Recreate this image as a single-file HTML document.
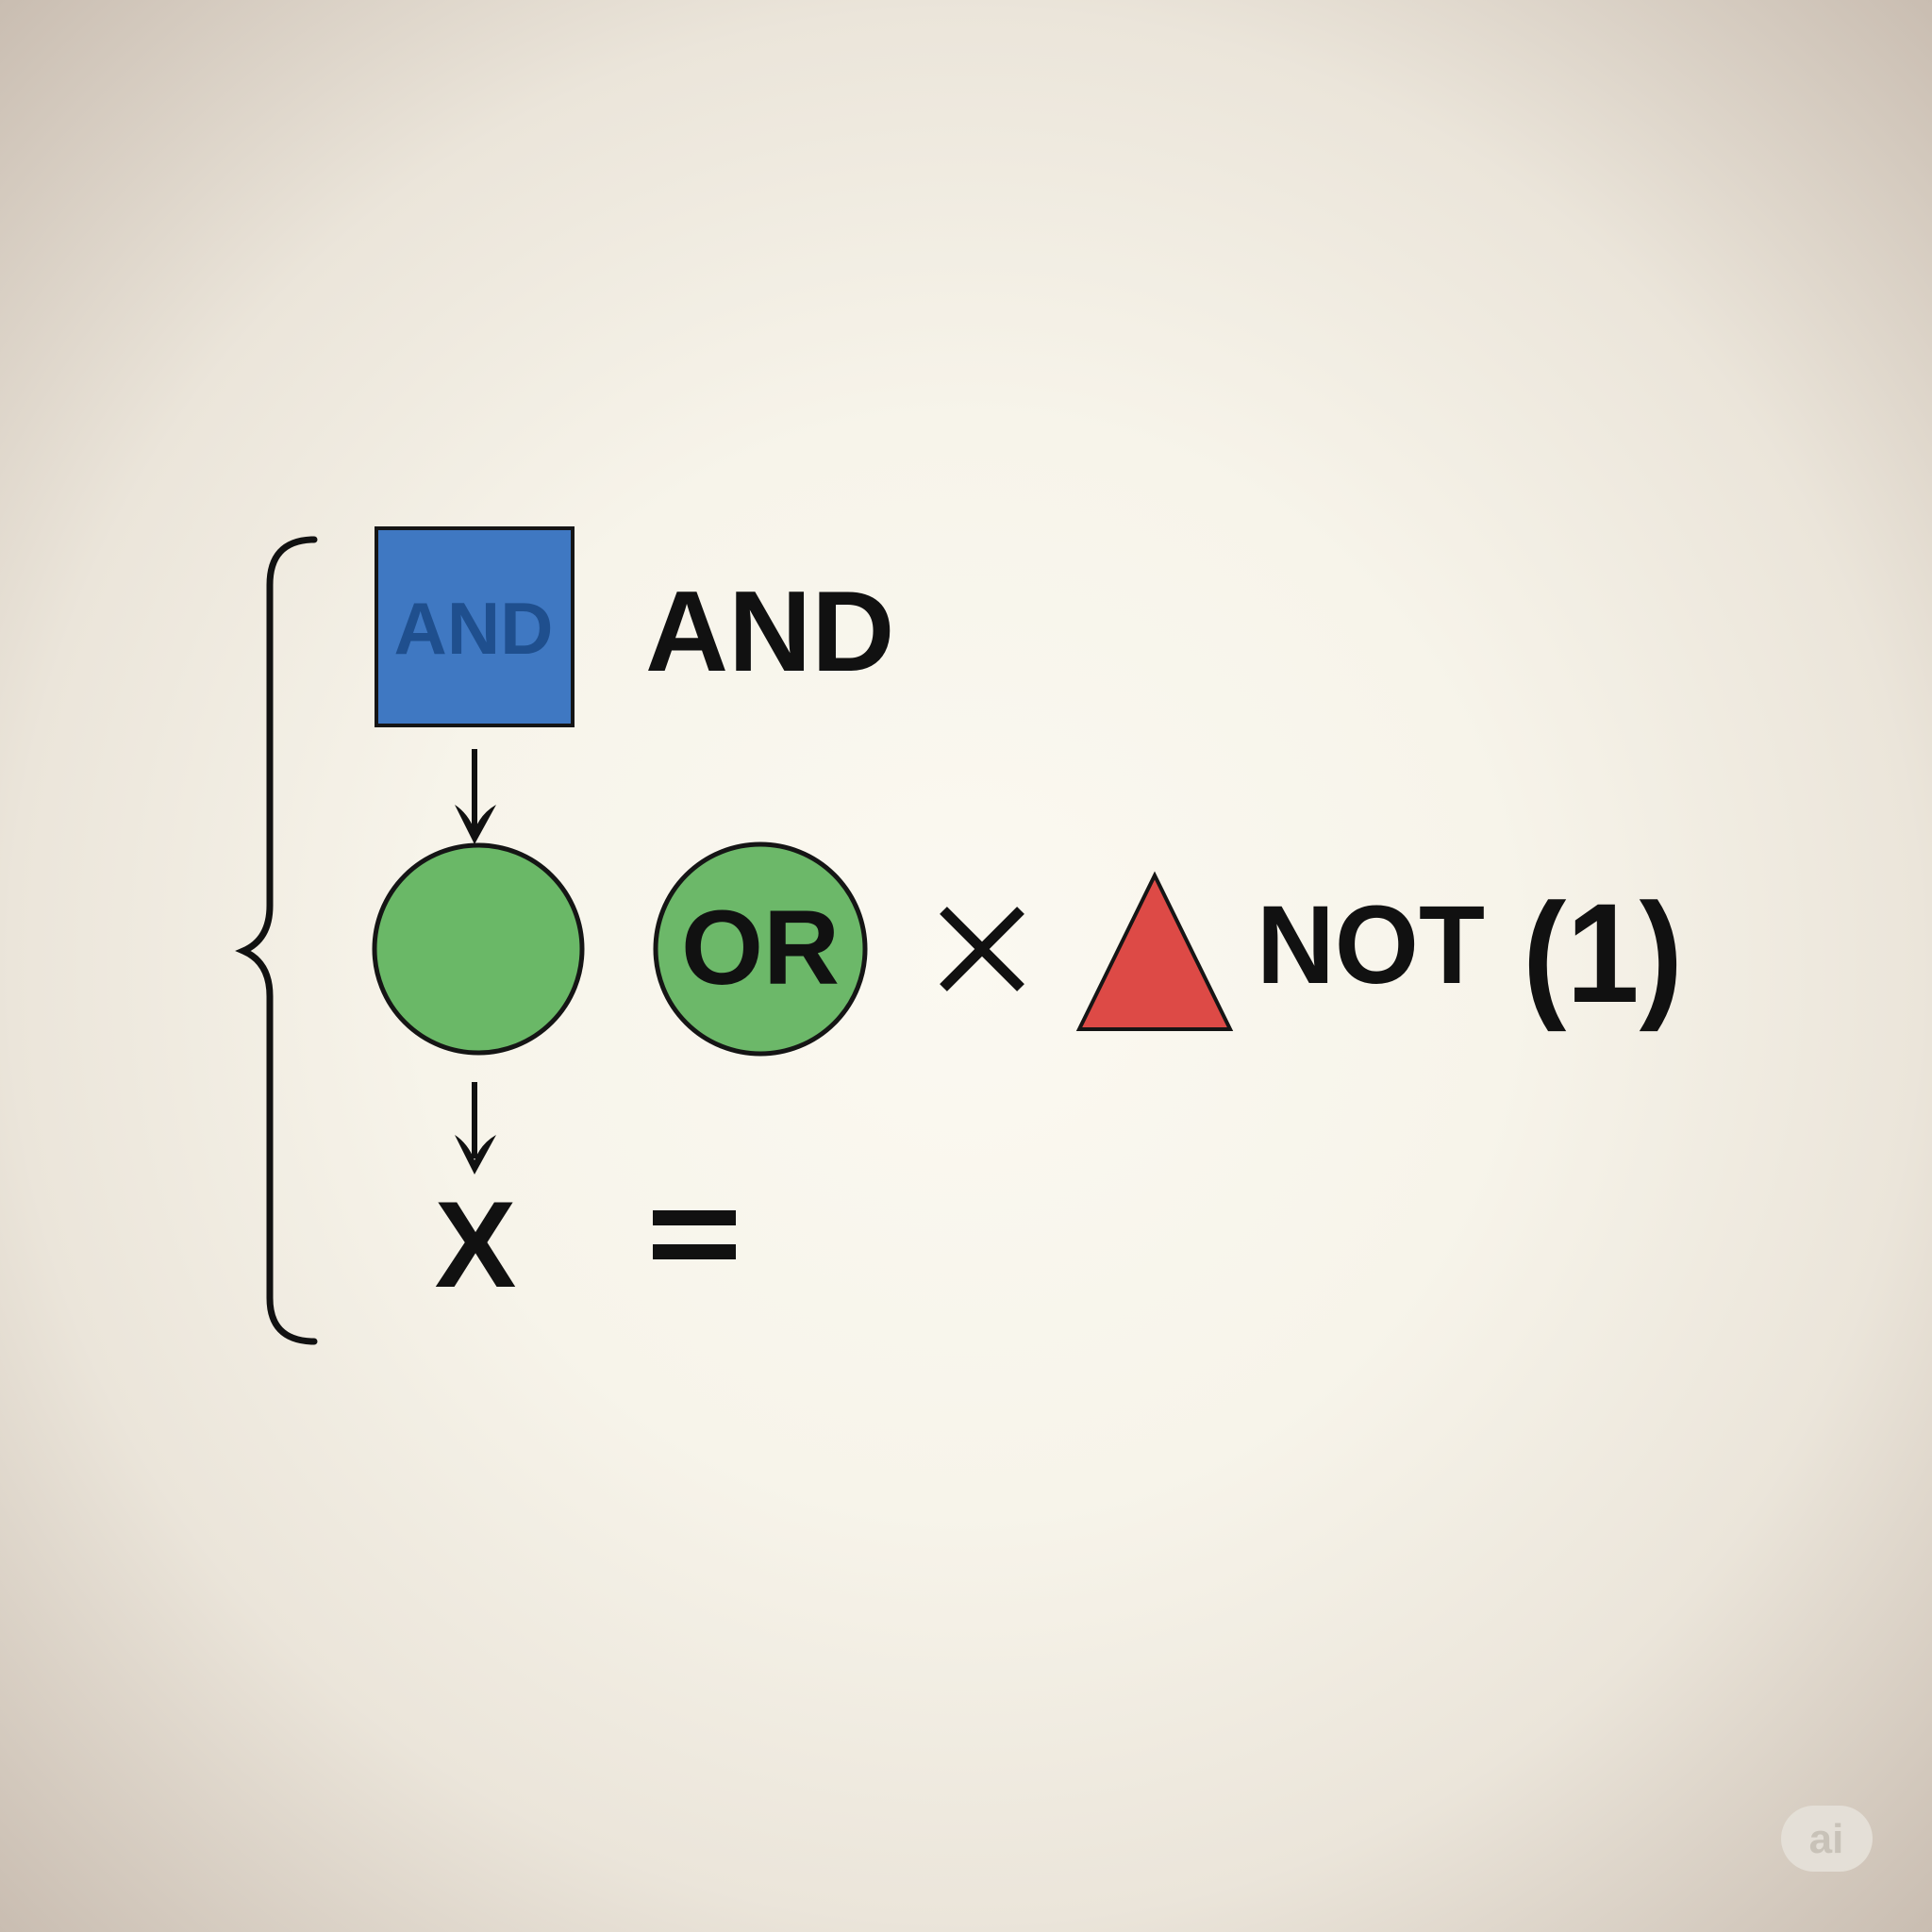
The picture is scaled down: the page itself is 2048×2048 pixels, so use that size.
<!DOCTYPE html>
<html><head><meta charset="utf-8"><style>
html,body{margin:0;padding:0;}
body{width:2048px;height:2048px;overflow:hidden;
background:radial-gradient(ellipse at 50% 50%, #fbf9f1 0%, #f7f4ea 40%, #ebe5da 70%, #c9bdb1 100%);}
svg{position:absolute;left:0;top:0;}
text{font-family:"Liberation Sans","DejaVu Sans",sans-serif;font-weight:bold;}
</style></head><body>
<svg width="2048" height="2048" viewBox="0 0 2048 2048">
  <path d="M333,572 L330,572 Q286,574 286,620 L286,960 Q286,996 258,1008 Q286,1020 286,1056 L286,1376 Q286,1420 330,1422 L333,1422" fill="none" stroke="#111" stroke-width="7" stroke-linecap="round"/>
  <rect x="399" y="560" width="208" height="209" fill="#3f78c2" stroke="#151515" stroke-width="4"/>
  <text x="502" y="693" font-size="78" fill="#1f4f8e" text-anchor="middle">AND</text>
  <text x="684" y="711" font-size="122" fill="#111">AND</text>
  <line x1="503" y1="794" x2="503" y2="880" stroke="#111" stroke-width="6"/>
  <path d="M482,853 L503,895 L526,853 Q510,862 503,880 Q496,862 482,853Z" fill="#111"/>
  <circle cx="507" cy="1006" r="110" fill="#6ab867" stroke="#151515" stroke-width="5"/>
  <circle cx="806" cy="1006" r="111" fill="#6cb869" stroke="#151515" stroke-width="5"/>
  <text x="806" y="1043" font-size="112" fill="#111" text-anchor="middle">OR</text>
  <path d="M1000,965 L1082,1047 M1082,965 L1000,1047" stroke="#111" stroke-width="11"/>
  <polygon points="1224,928 1144,1091 1304,1091" fill="#dd4a46" stroke="#151515" stroke-width="4"/>
  <text x="1332" y="1042" font-size="118" fill="#111" textLength="242" lengthAdjust="spacingAndGlyphs">NOT</text>
  <text x="1614" y="1062" font-size="150" font-weight="normal" fill="#111" textLength="170" lengthAdjust="spacingAndGlyphs">(1)</text>
  <line x1="503" y1="1147" x2="503" y2="1228" stroke="#111" stroke-width="6"/>
  <path d="M482,1203 L503,1245 L526,1203 Q510,1212 503,1230 Q496,1212 482,1203Z" fill="#111"/>
  <text x="504" y="1364" font-size="130" fill="#111" text-anchor="middle">X</text>
  <rect x="692" y="1283" width="88" height="16" fill="#111"/>
  <rect x="692" y="1319" width="88" height="16" fill="#111"/>
  <rect x="1888" y="1914" width="97" height="70" rx="35" fill="#e6e1d9" opacity="0.9"/>
  <text x="1936" y="1964" font-size="44" fill="#c8c2b8" text-anchor="middle">ai</text>
</svg>
</body></html>
